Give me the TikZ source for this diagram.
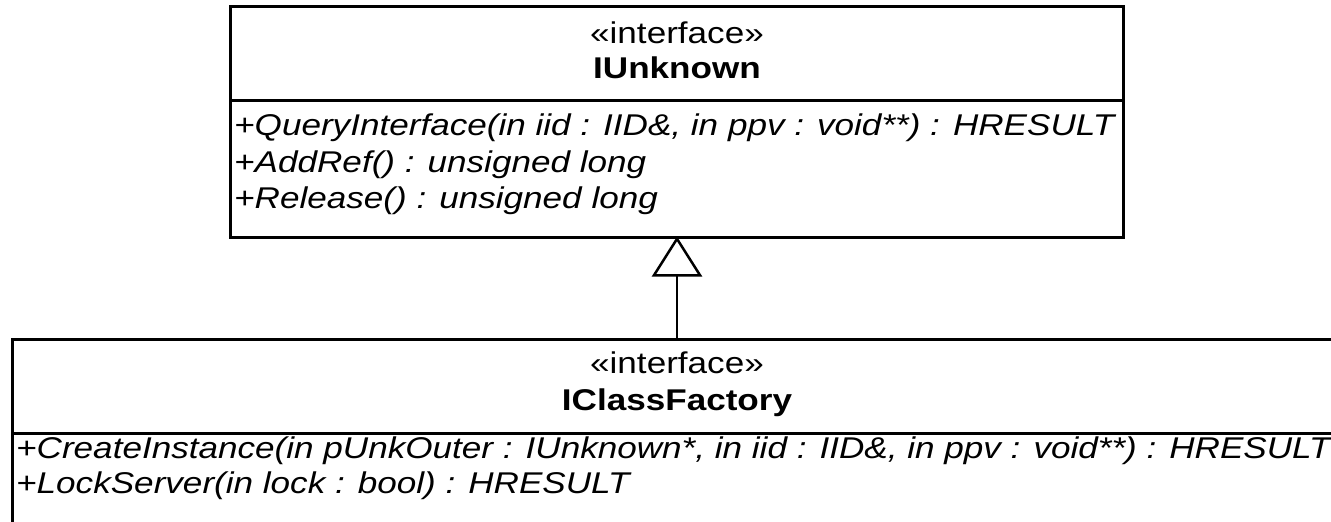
\documentclass[tikz,border=0pt]{standalone}
\usepackage{fontspec}
\setmainfont{Liberation Sans}[FakeStretch=1.17]
\usetikzlibrary{arrows.meta}
\tikzset{
  box/.style={draw=black, line width=3pt, rectangle, inner sep=0pt, fill=none},
  sep/.style={draw=black, line width=3pt},
  stereo/.style={anchor=base, inner sep=0pt, font=\fontsize{30}{36}\selectfont},
  title/.style={anchor=base, inner sep=0pt, font=\fontsize{30}{36}\selectfont\bfseries},
  op/.style={anchor=base west, inner sep=0pt, font=\fontsize{30}{36}\selectfont\itshape},
  inherit/.style={draw=black, line width=2pt, shorten >=-2pt, -{Triangle[open, length=40pt, width=50pt, line width=2.5pt]}}
}
\begin{document}
\begin{tikzpicture}[x=1pt, y=-1pt]
\useasboundingbox (0,0) rectangle (1331,522);
\fill[white] (0,0) rectangle (1331,522);
\clip (0,0) rectangle (1331,522);
% IUnknown
\node[box, minimum width=893pt, minimum height=231pt] (iu) at (676.5,121.5) {};
\draw[sep] (230,100) -- (1123,100);
\node[stereo] (iust) at (677,43) {«interface»};
\node[title] (iuti) at (677,78) {IUnknown};
\node[op] (iuop1) at (234,135) {+QueryInterface(in iid : IID\&, in ppv : void**) : HRESULT};
\node[op] (iuop2) at (234,172) {+AddRef() : unsigned long};
\node[op] (iuop3) at (234,208) {+Release() : unsigned long};
% IClassFactory
\node[box, minimum width=1330pt, minimum height=261pt] (ifc) at (677,469.5) {};
\draw[sep] (12,433) -- (1342,433);
\node[stereo] (ifcst) at (677,373) {«interface»};
\node[title] (ifcti) at (677,410) {IClassFactory};
\node[op] (ifcop1) at (16,458) {+CreateInstance(in pUnkOuter : IUnknown*, in iid : IID\&, in ppv : void**) : HRESULT};
\node[op] (ifcop2) at (16,493) {+LockServer(in lock : bool) : HRESULT};
% generalization
\draw[inherit] (ifc.north) -- (ifc.north |- iu.south);
\end{tikzpicture}
\end{document}
